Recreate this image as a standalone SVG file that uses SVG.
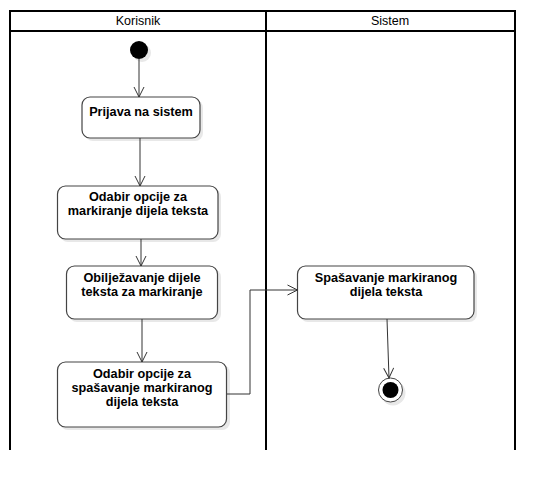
<svg xmlns="http://www.w3.org/2000/svg" width="554" height="490" viewBox="0 0 554 490">
<style>
.lane{fill:none;stroke:#000;stroke-width:2}
.hdr{font-family:"Liberation Sans",Arial,sans-serif;font-size:12.5px;fill:#000;text-anchor:middle}
.box{fill:#fff;stroke:#444;stroke-width:1.2}
.shd{fill:#e8e8e8}
.lbl{font-family:"Liberation Sans",Arial,sans-serif;font-size:12.7px;font-weight:bold;fill:#000;text-anchor:middle}
.edge{fill:none;stroke:#333;stroke-width:1;marker-end:url(#arr)}
</style>
<defs>
<marker id="arr" viewBox="0 0 12 12" refX="11" refY="6" markerWidth="12" markerHeight="12" markerUnits="userSpaceOnUse" orient="auto">
<path d="M1,1 L11,6 L1,11" fill="none" stroke="#333" stroke-width="1"/>
</marker>
</defs>
<rect width="554" height="490" fill="#fff"/>
<g id="lanes">
<path class="lane" d="M10,450 V11 H515 V450 M266,11 V450 M10,31 H515"/>
<text class="hdr" x="138" y="25">Korisnik</text>
<text class="hdr" x="390" y="25">Sistem</text>
</g>
<g id="start">
<circle cx="142" cy="53" r="9" fill="#e8e8e8"/>
<circle cx="139" cy="50" r="9" fill="#000"/>
</g>
<g id="n1">
<rect class="shd" x="85" y="100" width="118" height="41" rx="8"/>
<rect class="box" x="82" y="97" width="118" height="41" rx="8"/>
<text class="lbl" x="141" y="116">Prijava na sistem</text>
</g>
<g id="n2">
<rect class="shd" x="60" y="189" width="161" height="53" rx="8"/>
<rect class="box" x="57.5" y="186" width="160.5" height="53" rx="8"/>
<text class="lbl" x="138" y="201">Odabir opcije za</text>
<text class="lbl" x="138" y="215">markiranje dijela teksta</text>
</g>
<g id="n3">
<rect class="shd" x="69" y="269" width="152" height="53" rx="8"/>
<rect class="box" x="66.5" y="266" width="151" height="53" rx="8"/>
<text class="lbl" x="142" y="282">Obilježavanje dijele</text>
<text class="lbl" x="142" y="296">teksta za markiranje</text>
</g>
<g id="n4">
<rect class="shd" x="60" y="365" width="170" height="65" rx="8"/>
<rect class="box" x="57.5" y="362" width="169" height="65" rx="8"/>
<text class="lbl" x="142" y="378">Odabir opcije za</text>
<text class="lbl" x="142" y="392">spašavanje markiranog</text>
<text class="lbl" x="142" y="406">dijela teksta</text>
</g>
<g id="n5">
<rect class="shd" x="300" y="269" width="177" height="53" rx="8"/>
<rect class="box" x="297.5" y="266" width="176.5" height="53" rx="8"/>
<text class="lbl" x="386" y="282">Spašavanje markiranog</text>
<text class="lbl" x="386" y="296">dijela teksta</text>
</g>
<g id="end">
<circle cx="393" cy="393" r="12.5" fill="#e8e8e8"/>
<circle cx="390.5" cy="390" r="12" fill="#fff" stroke="#444" stroke-width="1"/>
<circle cx="390.5" cy="390" r="8" fill="#000"/>
</g>
<g id="connectors">
<path class="edge" d="M139,59 L139,97"/>
<path class="edge" d="M140,138 L140,186"/>
<path class="edge" d="M141,239 L141,266"/>
<path class="edge" d="M142,319 L142,362"/>
<path class="edge" d="M227,394 H250 V290 H297.5"/>
<path class="edge" d="M387,319 L389,378"/>
</g>
</svg>
